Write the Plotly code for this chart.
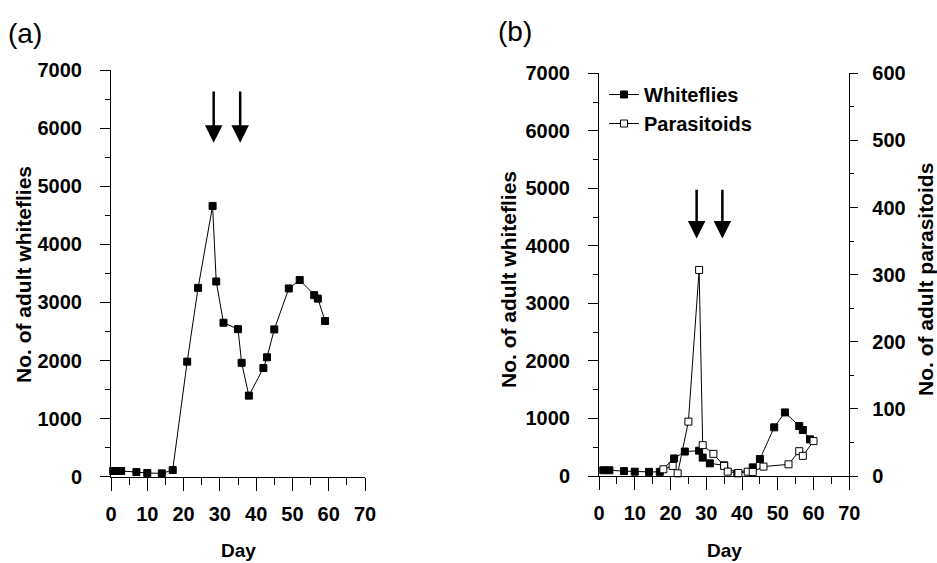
import plotly.graph_objects as go

# ---- data ----
days_a = [0.6, 1.7, 2.8, 7, 10, 14, 17, 21, 24, 28, 29, 31, 35, 36, 38, 42, 43, 45, 49, 52, 56, 57, 59]
whiteflies_a = [98, 98, 98, 80, 63, 57, 115, 1980, 3250, 4660, 3360, 2650, 2540, 1960, 1395,
                1870, 2055, 2535, 3240, 3385, 3125, 3065, 2680]

days_b_wf = [1.2, 2.9, 7, 10, 14, 17, 21, 24, 28, 29, 31, 35, 38.7, 43, 45, 49, 52, 56, 57, 59]
whiteflies_b = [100, 100, 85, 75, 72, 72, 305, 425, 440, 320, 220, 185, 46, 150, 295,
                846, 1105, 868, 800, 637]

days_b_par = [18, 20.6, 22, 25, 28, 29, 32, 35, 36, 39, 41.6, 43, 46, 53, 56, 57, 60]
parasitoids_b = [10, 15, 4, 81, 307, 46, 33, 15, 6.5, 4.5, 6.4, 6, 14, 17.4, 37, 30, 52]

arrow_days_a = [28.3, 35.6]
arrow_days_b = [27.3, 34.5]
x_ticks = [0, 10, 20, 30, 40, 50, 60, 70]

FONT = "Liberation Sans, Arial, sans-serif"

W, H = 937, 563

def fx(px):
    return px / W

def fy(py):
    return 1 - py / H

fig = go.Figure()

fig.add_trace(go.Scatter(
    x=days_a, y=whiteflies_a, mode="lines+markers", xaxis="x", yaxis="y",
    line=dict(color="black", width=1),
    marker=dict(symbol="square", size=7, color="black", line=dict(color="black", width=1)),
    showlegend=False, cliponaxis=False))

fig.add_trace(go.Scatter(
    x=days_b_wf, y=whiteflies_b, mode="lines+markers", xaxis="x2", yaxis="y2",
    name="Whiteflies", legendgroup="w",
    line=dict(color="black", width=1),
    marker=dict(symbol="square", size=7, color="black", line=dict(color="black", width=1)),
    cliponaxis=False))

fig.add_trace(go.Scatter(
    x=days_b_par, y=parasitoids_b, mode="lines+markers", xaxis="x2", yaxis="y3",
    name="Parasitoids", legendgroup="p",
    line=dict(color="black", width=1),
    marker=dict(symbol="square", size=7, color="white", line=dict(color="black", width=1)),
    cliponaxis=False))

tickfont = dict(family=FONT, size=20, color="black", weight="bold")

def xax(domain, anchor):
    return dict(domain=domain, anchor=anchor, range=[0, 70], tickvals=x_ticks,
                ticks="outside", ticklen=13, tickwidth=1, tickcolor="black",
                minor=dict(dtick=5, tick0=0, ticks="outside", ticklen=7, tickwidth=1, tickcolor="black"),
                showline=True, linecolor="black", linewidth=1, showgrid=False, zeroline=False,
                tickfont=tickfont, ticklabelstandoff=6, automargin=False)

def yax(domain, anchor, rng, dt, side="left"):
    d = dict(domain=domain, anchor=anchor, range=rng, dtick=dt, tick0=0,
             ticks="outside", ticklen=10, tickwidth=1, tickcolor="black",
             minor=dict(dtick=dt / 2, tick0=0, ticks="outside", ticklen=5, tickwidth=1, tickcolor="black"),
             showline=True, linecolor="black", linewidth=1, showgrid=False, zeroline=False,
             tickfont=tickfont, side=side, ticklabelstandoff=14, automargin=False)
    return d

ya3 = yax(None, "x2", [0, 600], 100, side="right")
ya3.pop("domain")
ya3["overlaying"] = "y2"
ya3["ticklen"] = 8
ya3["minor"]["ticklen"] = 4
ya3["ticklabelstandoff"] = 10

titlefont = dict(family=FONT, size=21, color="black", weight="bold")
dayfont = dict(family=FONT, size=19, color="black", weight="bold")

def ann(text, px, py, font, angle=0):
    return dict(text=text, x=fx(px), y=fy(py), xref="paper", yref="paper", showarrow=False,
                xanchor="center", yanchor="middle", textangle=angle, font=font)

annotations = [
    ann("(a)", 25, 33, dict(family=FONT, size=28, color="black")),
    ann("(b)", 515, 31, dict(family=FONT, size=28, color="black")),
    ann("No. of adult whiteflies", 23, 275, titlefont, -90),
    ann("No. of adult whiteflies", 508, 280, titlefont, -90),
    ann("No. of adult parasitoids", 925, 280, titlefont, -90),
    ann("Day", 238, 550, dayfont),
    ann("Day", 724, 550, dayfont),
]
for d in arrow_days_a:
    annotations.append(dict(x=d, y=5750, ax=d, ay=6656, xref="x", yref="y", axref="x", ayref="y",
                            text="", showarrow=True, arrowhead=2, arrowsize=1.4, arrowwidth=2.5,
                            arrowcolor="black"))
for d in arrow_days_b:
    annotations.append(dict(x=d, y=4130, ax=d, ay=5000, xref="x2", yref="y2", axref="x2", ayref="y2",
                            text="", showarrow=True, arrowhead=2, arrowsize=1.4, arrowwidth=2.5,
                            arrowcolor="black"))

fig.update_layout(
    template="none",
    width=W, height=H, autosize=False,
    margin=dict(l=0, r=0, t=0, b=0, pad=0),
    paper_bgcolor="white", plot_bgcolor="white",
    font=dict(family=FONT, color="black"),
    xaxis=xax([fx(111), fx(365)], "y"),
    yaxis=yax([fy(476.7), fy(70)], "x", [0, 7000], 1000),
    xaxis2=xax([fx(599), fx(849.3)], "y2"),
    yaxis2=yax([fy(476), fy(73.3)], "x2", [0, 7000], 1000),
    yaxis3=ya3,
    legend=dict(x=fx(604), y=fy(75), xanchor="left", yanchor="top",
                bgcolor="rgba(0,0,0,0)", font=dict(family=FONT, size=20, color="black", weight="bold"),
                itemwidth=30, tracegroupgap=0),
    annotations=annotations,
)

# remove the default page margin so the figure sits at the window's top-left corner
fig.write_html("out.html", config={"displayModeBar": False},
               post_script="document.body.style.margin='0';document.body.style.overflow='hidden';")
